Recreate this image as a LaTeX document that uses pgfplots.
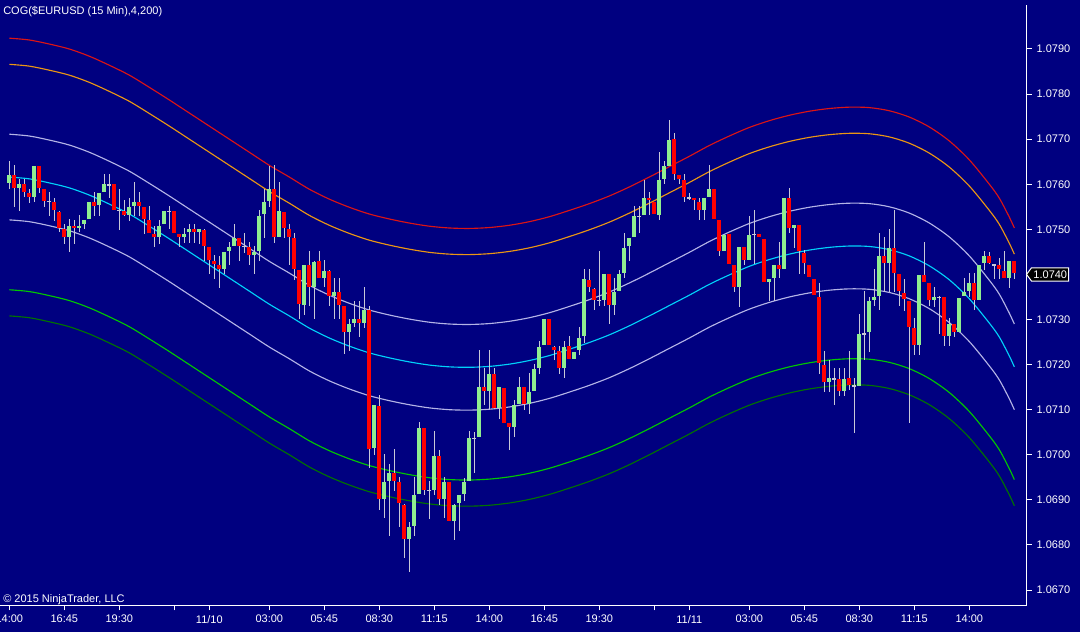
\documentclass[border=0pt]{standalone}
\usepackage{pgfplots}
\usepackage{pgfplotstable}
\pgfplotsset{compat=1.18}
\usepackage{fontspec}
\setmainfont{Liberation Sans}
\definecolor{bg}{RGB}{0,0,128}
\definecolor{bull}{RGB}{144,238,144}
\definecolor{bear}{RGB}{255,0,0}
\definecolor{wick}{RGB}{200,200,215}
\definecolor{cred}{RGB}{220,20,20}
\definecolor{corange}{RGB}{235,150,20}
\definecolor{clav}{RGB}{180,180,230}
\definecolor{ccyan}{RGB}{0,210,250}
\definecolor{cgreen}{RGB}{0,200,0}
\definecolor{cdkgreen}{RGB}{0,115,0}

\pgfplotstableread{
n o h l c
0 1.07604 1.07652 1.07590 1.07621
2 1.07592 1.07612 1.07541 1.07601
5 1.07572 1.07641 1.07561 1.07641
12 1.07484 1.07523 1.07450 1.07509
14 1.07504 1.07532 1.07495 1.07509
15 1.07512 1.07521 1.07501 1.07521
16 1.07524 1.07561 1.07524 1.07561
18 1.07553 1.07581 1.07530 1.07581
19 1.07584 1.07623 1.07584 1.07601
24 1.07533 1.07572 1.07521 1.07550
25 1.07553 1.07604 1.07530 1.07561
30 1.07484 1.07523 1.07470 1.07509
31 1.07512 1.07541 1.07512 1.07541
35 1.07484 1.07504 1.07470 1.07490
36 1.07493 1.07512 1.07470 1.07501
38 1.07493 1.07501 1.07470 1.07501
43 1.07413 1.07450 1.07402 1.07450
44 1.07453 1.07473 1.07421 1.07461
45 1.07464 1.07512 1.07464 1.07481
49 1.07444 1.07464 1.07402 1.07450
50 1.07453 1.07544 1.07430 1.07530
51 1.07533 1.07590 1.07482 1.07561
52 1.07564 1.07641 1.07550 1.07590
54 1.07484 1.07604 1.07484 1.07541
59 1.07333 1.07421 1.07311 1.07421
61 1.07373 1.07430 1.07302 1.07430
63 1.07393 1.07432 1.07373 1.07410
65 1.07353 1.07393 1.07302 1.07362
68 1.07273 1.07302 1.07231 1.07291
69 1.07293 1.07342 1.07283 1.07302
71 1.07293 1.07373 1.07283 1.07322
73 1.07014 1.07110 1.07001 1.07110
75 1.06903 1.07002 1.06860 1.06940
76 1.06943 1.06982 1.06821 1.06960
80 1.06814 1.06853 1.06741 1.06840
81 1.06843 1.06951 1.06820 1.06911
82 1.06914 1.07073 1.06914 1.07060
85 1.06923 1.07053 1.06911 1.06999
87 1.06903 1.06951 1.06860 1.06940
89 1.06854 1.06891 1.06811 1.06891
90 1.06894 1.06911 1.06832 1.06911
91 1.06914 1.06951 1.06900 1.06940
92 1.06943 1.07053 1.06943 1.07039
94 1.07042 1.07232 1.07042 1.07151
96 1.07142 1.07232 1.07103 1.07179
98 1.07104 1.07151 1.07080 1.07151
101 1.07062 1.07122 1.07040 1.07111
102 1.07113 1.07173 1.07113 1.07151
104 1.07113 1.07182 1.07091 1.07139
105 1.07142 1.07202 1.07142 1.07190
106 1.07193 1.07253 1.07179 1.07241
107 1.07244 1.07301 1.07244 1.07301
111 1.07193 1.07253 1.07171 1.07241
113 1.07213 1.07230 1.07213 1.07230
114 1.07233 1.07284 1.07222 1.07261
115 1.07264 1.07412 1.07250 1.07390
119 1.07345 1.07401 1.07330 1.07401
121 1.07333 1.07393 1.07311 1.07361
122 1.07364 1.07411 1.07364 1.07401
123 1.07404 1.07491 1.07393 1.07461
124 1.07464 1.07481 1.07430 1.07481
125 1.07484 1.07552 1.07484 1.07530
127 1.07533 1.07612 1.07533 1.07570
130 1.07533 1.07672 1.07521 1.07610
131 1.07612 1.07652 1.07601 1.07641
132 1.07643 1.07743 1.07643 1.07700
139 1.07544 1.07570 1.07521 1.07570
140 1.07572 1.07643 1.07572 1.07590
143 1.07453 1.07490 1.07453 1.07490
146 1.07373 1.07461 1.07330 1.07461
148 1.07433 1.07532 1.07433 1.07490
152 1.07384 1.07390 1.07342 1.07390
153 1.07393 1.07421 1.07342 1.07421
155 1.07413 1.07570 1.07413 1.07570
157 1.07504 1.07510 1.07461 1.07510
164 1.07162 1.07212 1.07140 1.07170
167 1.07142 1.07193 1.07130 1.07170
170 1.07155 1.07312 1.07155 1.07270
172 1.07273 1.07352 1.07230 1.07341
173 1.07344 1.07412 1.07330 1.07351
174 1.07353 1.07492 1.07322 1.07441
176 1.07425 1.07502 1.07362 1.07460
182 1.07244 1.07401 1.07222 1.07401
185 1.07344 1.07373 1.07330 1.07351
188 1.07264 1.07304 1.07242 1.07290
190 1.07273 1.07350 1.07273 1.07350
191 1.07353 1.07392 1.07353 1.07361
192 1.07364 1.07404 1.07350 1.07381
194 1.07344 1.07421 1.07344 1.07421
195 1.07425 1.07452 1.07410 1.07441
200 1.07394 1.07430 1.07371 1.07430
}\upT

\pgfplotstableread{
n o h l c
1 1.07621 1.07643 1.07550 1.07592
3 1.07601 1.07612 1.07572 1.07584
4 1.07581 1.07590 1.07561 1.07572
6 1.07641 1.07641 1.07581 1.07592
7 1.07590 1.07590 1.07550 1.07564
9 1.07561 1.07572 1.07521 1.07544
10 1.07541 1.07541 1.07495 1.07504
11 1.07501 1.07512 1.07467 1.07484
13 1.07509 1.07523 1.07470 1.07504
17 1.07561 1.07584 1.07530 1.07553
21 1.07601 1.07601 1.07544 1.07544
23 1.07541 1.07564 1.07530 1.07533
26 1.07561 1.07584 1.07530 1.07553
27 1.07550 1.07550 1.07490 1.07524
28 1.07521 1.07552 1.07492 1.07492
29 1.07490 1.07509 1.07462 1.07484
33 1.07541 1.07541 1.07492 1.07492
34 1.07490 1.07490 1.07462 1.07484
37 1.07501 1.07512 1.07470 1.07493
39 1.07501 1.07501 1.07430 1.07464
40 1.07461 1.07461 1.07402 1.07432
41 1.07430 1.07442 1.07390 1.07424
42 1.07421 1.07442 1.07371 1.07413
46 1.07481 1.07481 1.07430 1.07464
48 1.07461 1.07473 1.07421 1.07444
53 1.07590 1.07643 1.07470 1.07484
55 1.07541 1.07541 1.07482 1.07504
56 1.07501 1.07512 1.07421 1.07484
57 1.07481 1.07493 1.07390 1.07413
58 1.07410 1.07410 1.07302 1.07333
60 1.07421 1.07453 1.07331 1.07373
62 1.07430 1.07453 1.07393 1.07393
64 1.07410 1.07410 1.07331 1.07353
66 1.07362 1.07393 1.07302 1.07333
67 1.07331 1.07331 1.07223 1.07273
70 1.07302 1.07342 1.07262 1.07293
72 1.07322 1.07331 1.06972 1.07014
74 1.07110 1.07133 1.06880 1.06903
77 1.06960 1.07013 1.06920 1.06943
78 1.06940 1.06951 1.06841 1.06894
79 1.06891 1.06891 1.06772 1.06814
83 1.07060 1.07060 1.06911 1.06923
86 1.06999 1.07012 1.06891 1.06903
88 1.06940 1.06940 1.06854 1.06854
95 1.07151 1.07193 1.07111 1.07142
97 1.07179 1.07193 1.07104 1.07104
99 1.07151 1.07151 1.07073 1.07073
100 1.07071 1.07071 1.07011 1.07062
103 1.07151 1.07151 1.07100 1.07113
108 1.07301 1.07301 1.07244 1.07244
109 1.07241 1.07241 1.07210 1.07233
110 1.07230 1.07241 1.07179 1.07193
112 1.07241 1.07264 1.07213 1.07213
116 1.07390 1.07412 1.07362 1.07373
117 1.07370 1.07370 1.07322 1.07345
120 1.07401 1.07401 1.07291 1.07333
128 1.07570 1.07584 1.07533 1.07564
129 1.07561 1.07561 1.07533 1.07533
133 1.07700 1.07714 1.07610 1.07623
134 1.07621 1.07621 1.07601 1.07612
135 1.07610 1.07623 1.07561 1.07572
137 1.07570 1.07570 1.07544 1.07564
138 1.07561 1.07570 1.07521 1.07544
141 1.07590 1.07590 1.07524 1.07524
142 1.07521 1.07521 1.07442 1.07453
144 1.07490 1.07490 1.07424 1.07424
145 1.07421 1.07421 1.07362 1.07373
147 1.07461 1.07461 1.07421 1.07433
150 1.07490 1.07490 1.07484 1.07484
151 1.07481 1.07481 1.07384 1.07384
154 1.07421 1.07473 1.07393 1.07413
156 1.07570 1.07592 1.07492 1.07504
158 1.07510 1.07510 1.07402 1.07453
159 1.07448 1.07454 1.07402 1.07425
160 1.07421 1.07421 1.07394 1.07394
161 1.07390 1.07390 1.07354 1.07354
162 1.07351 1.07383 1.07181 1.07203
163 1.07199 1.07232 1.07140 1.07162
166 1.07170 1.07193 1.07130 1.07142
168 1.07170 1.07232 1.07144 1.07155
175 1.07441 1.07484 1.07362 1.07425
177 1.07460 1.07545 1.07362 1.07404
178 1.07401 1.07401 1.07331 1.07364
179 1.07360 1.07391 1.07320 1.07345
180 1.07341 1.07341 1.07071 1.07284
181 1.07281 1.07303 1.07222 1.07244
183 1.07401 1.07473 1.07384 1.07384
184 1.07381 1.07381 1.07330 1.07344
187 1.07350 1.07350 1.07242 1.07264
189 1.07290 1.07290 1.07262 1.07273
193 1.07381 1.07404 1.07322 1.07344
196 1.07441 1.07452 1.07425 1.07425
198 1.07421 1.07438 1.07391 1.07412
199 1.07410 1.07452 1.07394 1.07394
201 1.07430 1.07430 1.07391 1.07404
}\dnT

\pgfplotstableread{
n o h l c
8 1.07564 1.07584 1.07530 1.07562
20 1.07601 1.07623 1.07570 1.07599
22 1.07544 1.07592 1.07501 1.07542
32 1.07541 1.07552 1.07501 1.07539
47 1.07464 1.07493 1.07450 1.07462
84 1.06923 1.06943 1.06860 1.06921
93 1.07039 1.07053 1.06960 1.07037
118 1.07345 1.07452 1.07330 1.07343
126 1.07530 1.07552 1.07492 1.07528
136 1.07572 1.07581 1.07565 1.07570
149 1.07490 1.07544 1.07424 1.07488
165 1.07170 1.07193 1.07112 1.07168
169 1.07155 1.07173 1.07051 1.07153
171 1.07270 1.07363 1.07210 1.07268
186 1.07350 1.07353 1.07270 1.07348
197 1.07423 1.07425 1.07391 1.07421
}\djT

\pgfplotstableread{
n c u1 l1 u2 l2 u3 l3
0 1.07616 1.07711 1.07521 1.07866 1.07366 1.07924 1.07308
4 1.07612 1.07707 1.07517 1.07862 1.07362 1.07920 1.07304
8 1.07603 1.07698 1.07508 1.07853 1.07353 1.07911 1.07295
12 1.07592 1.07687 1.07497 1.07842 1.07342 1.07900 1.07284
16 1.07576 1.07671 1.07481 1.07826 1.07326 1.07884 1.07268
20 1.07556 1.07651 1.07461 1.07806 1.07306 1.07864 1.07248
24 1.07534 1.07629 1.07439 1.07784 1.07284 1.07842 1.07226
28 1.07507 1.07602 1.07412 1.07757 1.07257 1.07815 1.07199
32 1.07479 1.07574 1.07384 1.07729 1.07229 1.07787 1.07171
36 1.07450 1.07545 1.07355 1.07700 1.07200 1.07758 1.07142
40 1.07421 1.07516 1.07326 1.07671 1.07171 1.07729 1.07113
44 1.07392 1.07487 1.07297 1.07642 1.07142 1.07700 1.07084
48 1.07363 1.07458 1.07268 1.07613 1.07113 1.07671 1.07055
52 1.07334 1.07429 1.07239 1.07584 1.07084 1.07642 1.07026
56 1.07308 1.07403 1.07213 1.07558 1.07058 1.07616 1.07000
60 1.07281 1.07376 1.07186 1.07531 1.07031 1.07589 1.06973
64 1.07259 1.07354 1.07164 1.07509 1.07009 1.07567 1.06951
68 1.07241 1.07336 1.07146 1.07491 1.06991 1.07549 1.06933
72 1.07226 1.07321 1.07131 1.07476 1.06976 1.07534 1.06918
76 1.07215 1.07310 1.07120 1.07465 1.06965 1.07523 1.06907
80 1.07206 1.07301 1.07111 1.07456 1.06956 1.07514 1.06898
84 1.07199 1.07294 1.07104 1.07449 1.06949 1.07507 1.06891
88 1.07195 1.07290 1.07100 1.07445 1.06945 1.07503 1.06887
92 1.07194 1.07289 1.07099 1.07444 1.06944 1.07502 1.06886
96 1.07196 1.07291 1.07101 1.07446 1.06946 1.07504 1.06888
100 1.07201 1.07296 1.07106 1.07451 1.06951 1.07509 1.06893
104 1.07209 1.07304 1.07114 1.07459 1.06959 1.07517 1.06901
108 1.07220 1.07315 1.07125 1.07470 1.06970 1.07528 1.06912
112 1.07234 1.07329 1.07139 1.07484 1.06984 1.07542 1.06926
116 1.07249 1.07344 1.07154 1.07499 1.06999 1.07557 1.06941
120 1.07266 1.07361 1.07171 1.07516 1.07016 1.07574 1.06958
124 1.07286 1.07381 1.07191 1.07536 1.07036 1.07594 1.06978
128 1.07308 1.07403 1.07213 1.07558 1.07058 1.07616 1.07000
132 1.07331 1.07426 1.07236 1.07581 1.07081 1.07639 1.07023
136 1.07354 1.07449 1.07259 1.07604 1.07104 1.07662 1.07046
140 1.07378 1.07473 1.07283 1.07628 1.07128 1.07686 1.07070
144 1.07399 1.07494 1.07304 1.07649 1.07149 1.07707 1.07091
148 1.07418 1.07513 1.07323 1.07668 1.07168 1.07726 1.07110
152 1.07433 1.07528 1.07338 1.07683 1.07183 1.07741 1.07125
156 1.07445 1.07540 1.07350 1.07695 1.07195 1.07753 1.07137
160 1.07454 1.07549 1.07359 1.07704 1.07204 1.07762 1.07146
164 1.07460 1.07555 1.07365 1.07710 1.07210 1.07768 1.07152
168 1.07463 1.07558 1.07368 1.07713 1.07213 1.07771 1.07155
172 1.07462 1.07557 1.07367 1.07712 1.07212 1.07770 1.07154
176 1.07455 1.07550 1.07360 1.07705 1.07205 1.07763 1.07147
180 1.07441 1.07536 1.07346 1.07691 1.07191 1.07749 1.07133
184 1.07419 1.07514 1.07324 1.07669 1.07169 1.07727 1.07111
188 1.07388 1.07483 1.07293 1.07638 1.07138 1.07696 1.07080
192 1.07346 1.07441 1.07251 1.07596 1.07096 1.07654 1.07038
196 1.07292 1.07387 1.07197 1.07542 1.07042 1.07600 1.06984
198 1.07261 1.07356 1.07166 1.07511 1.07011 1.07569 1.06953
200 1.07219 1.07314 1.07124 1.07469 1.06969 1.07527 1.06911
201 1.07195 1.07290 1.07100 1.07445 1.06945 1.07503 1.06887
}\bandT

\pgfplotsset{
  candle/.style 2 args={draw=none, fill=none, mark=none, forget plot,
    error bars/.cd, y dir=both, y explicit, error mark=none,
    error bar style={draw=#1, line width=#2}},
}

\begin{document}
\begin{tikzpicture}[x=1pt,y=1pt]
\fill[bg] (0,0) rectangle (810,474);
\path[use as bounding box] (0,0) rectangle (810,474);
\begin{axis}[
  at={(0pt,20.25pt)}, anchor=south west,
  scale only axis, width=769.9pt, height=450pt,
  xmin=-1.86, xmax=203.44, ymin=1.066668, ymax=1.079976,
  axis x line*=bottom, axis y line*=right,
  axis line style={white, line width=0.75pt},
  tick align=outside, major tick length=4pt,
  tick style={white, line width=0.75pt},
  xtick={0,11,22,33,40,52,63,74,85,96,107,118,129,136,148,159,170,181,192},
  xticklabels={14:00,16:45,19:30,,11/10,03:00,05:45,08:30,11:15,14:00,16:45,19:30,,11/11,03:00,05:45,08:30,11:15,14:00},
  ytick={1.067,1.068,1.069,1.070,1.071,1.072,1.073,1.075,1.076,1.077,1.078,1.079},
  scaled y ticks=false,
  yticklabel style={/pgf/number format/.cd, fixed, fixed zerofill, precision=4, assume math mode=true},
  ticklabel style={font=\fontsize{8.25}{9}\selectfont, text=white},
  clip=false,
]
\addplot[cred, line width=0.85pt, smooth] table[x=n, y=u3] {\bandT};
\addplot[corange, line width=0.85pt, smooth] table[x=n, y=u2] {\bandT};
\addplot[clav, line width=0.85pt, smooth] table[x=n, y=u1] {\bandT};
\addplot[ccyan, line width=0.85pt, smooth] table[x=n, y=c] {\bandT};
\addplot[clav, line width=0.85pt, smooth] table[x=n, y=l1] {\bandT};
\addplot[cgreen, line width=0.85pt, smooth] table[x=n, y=l2] {\bandT};
\addplot[cdkgreen, line width=0.85pt, smooth] table[x=n, y=l3] {\bandT};

% wicks
\addplot[candle={wick}{0.75pt}]
  table[x=n, y expr={(\thisrow{h}+\thisrow{l})/2}, y error expr={(\thisrow{h}-\thisrow{l})/2}] {\upT};
\addplot[candle={wick}{0.75pt}]
  table[x=n, y expr={(\thisrow{h}+\thisrow{l})/2}, y error expr={(\thisrow{h}-\thisrow{l})/2}] {\dnT};
\addplot[candle={wick}{0.75pt}]
  table[x=n, y expr={(\thisrow{h}+\thisrow{l})/2}, y error expr={(\thisrow{h}-\thisrow{l})/2}] {\djT};
% bodies
\addplot[candle={bull}{2.8pt}]
  table[x=n, y expr={(\thisrow{o}+\thisrow{c})/2}, y error expr={abs(\thisrow{c}-\thisrow{o})/2}] {\upT};
\addplot[candle={bear}{2.8pt}]
  table[x=n, y expr={(\thisrow{o}+\thisrow{c})/2}, y error expr={abs(\thisrow{c}-\thisrow{o})/2}] {\dnT};
\addplot[candle={wick}{2.8pt}]
  table[x=n, y expr={(\thisrow{o}+\thisrow{c})/2}, y error expr={abs(\thisrow{c}-\thisrow{o})/2}] {\djT};
\coordinate (pm) at (axis cs:203.44,1.0740);
\end{axis}
\draw[white, fill=black, line width=0.75pt] (pm) -- ++(3.75pt,5pt) -- ++(27.75pt,0pt) -- ++(0pt,-10pt) -- ++(-27.75pt,0pt) -- cycle;
\node[text=white, font=\fontsize{8.25}{9}\selectfont, inner sep=0pt] at ([xshift=17.8pt]pm) {1.0740};
\node[anchor=west, text=white, font=\fontsize{8.25}{9}\selectfont, inner sep=0pt] at (2.25,465) {COG(\$EURUSD (15 Min),4,200)};
\node[anchor=west, text=white, font=\fontsize{8.25}{9}\selectfont, inner sep=0pt] at (2.25,24) {© 2015 NinjaTrader, LLC};
\end{tikzpicture}
\end{document}
